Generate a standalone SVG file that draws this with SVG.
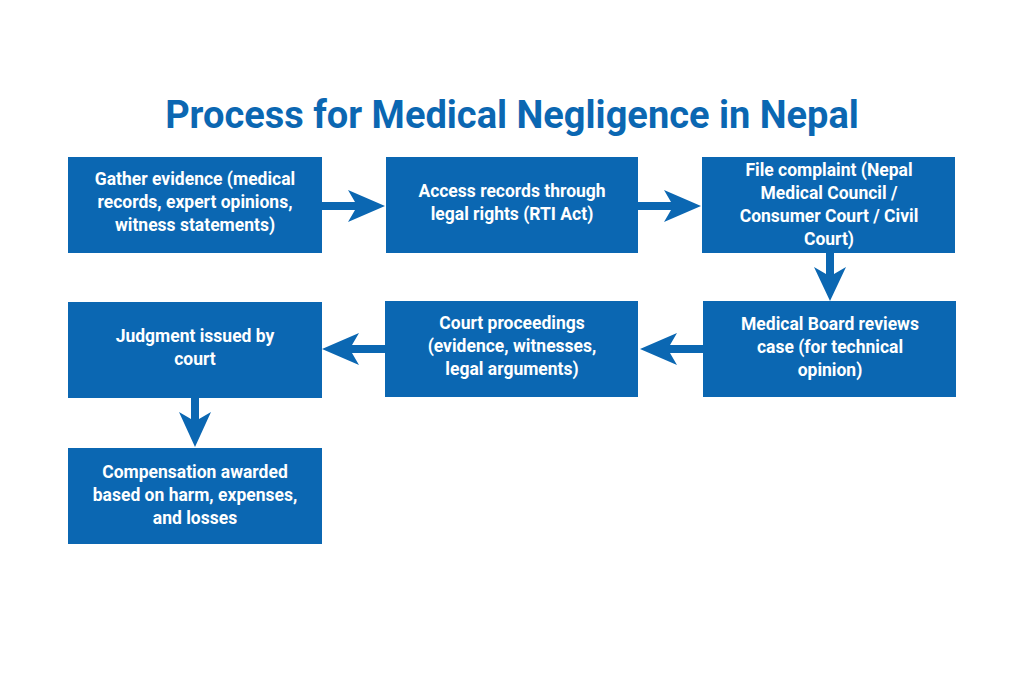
<svg xmlns="http://www.w3.org/2000/svg" width="1024" height="683" viewBox="0 0 1024 683">
<style>
.b{fill:#0b67b2}
.t{fill:#fff;font-family:Roboto,"Liberation Sans",sans-serif;font-weight:bold;font-size:17.5px;text-anchor:middle}
.h{fill:#0b67b2;font-family:Roboto,"Liberation Sans",sans-serif;font-weight:bold;font-size:38px;text-anchor:middle}
.c{fill:#0b67b2}
</style>
<rect width="1024" height="683" fill="#fff"/>
<text class="h" x="512" y="128">Process for Medical Negligence in Nepal</text>
<g id="n1"><rect class="b" x="68" y="157" width="254" height="96"/><text class="t" x="195" y="185">Gather evidence (medical<tspan x="195" dy="23">records, expert opinions,</tspan><tspan x="195" dy="23">witness statements)</tspan></text></g>
<g id="n2"><rect class="b" x="386" y="157" width="252" height="96"/><text class="t" x="512" y="197">Access records through<tspan x="512" dy="23">legal rights (RTI Act)</tspan></text></g>
<g id="n3"><rect class="b" x="702" y="157" width="253" height="96"/><text class="t" x="829" y="176">File complaint (Nepal<tspan x="829" dy="23">Medical Council /</tspan><tspan x="829" dy="23">Consumer Court / Civil</tspan><tspan x="829" dy="23">Court)</tspan></text></g>
<g id="n4"><rect class="b" x="703" y="301" width="253" height="96"/><text class="t" x="830" y="330">Medical Board reviews<tspan x="830" dy="23">case (for technical</tspan><tspan x="830" dy="23">opinion)</tspan></text></g>
<g id="n5"><rect class="b" x="385" y="301" width="253" height="96"/><text class="t" x="512" y="329">Court proceedings<tspan x="512" dy="23">(evidence, witnesses,</tspan><tspan x="512" dy="23">legal arguments)</tspan></text></g>
<g id="n6"><rect class="b" x="68" y="302" width="254" height="96"/><text class="t" x="195" y="342">Judgment issued by<tspan x="195" dy="23">court</tspan></text></g>
<g id="n7"><rect class="b" x="68" y="448" width="254" height="96"/><text class="t" x="195" y="478">Compensation awarded<tspan x="195" dy="23">based on harm, expenses,</tspan><tspan x="195" dy="23">and losses</tspan></text></g>
<g id="connectors">
<path class="c" d="M322 202H355L348 190L385 206L348 222L355 210H322Z"/>
<path class="c" d="M638 202H671L664 190L701 206L664 222L671 210H638Z"/>
<path class="c" d="M826 253V274L814 267L830 301L846 267L834 274V253Z"/>
<path class="c" d="M703 345H670L677 333L640 349L677 365L670 353H703Z"/>
<path class="c" d="M385 345H352L359 333L322 349L359 365L352 353H385Z"/>
<path class="c" d="M191 398V419L179 412L195 447L211 412L199 419V398Z"/>
</g>
</svg>
